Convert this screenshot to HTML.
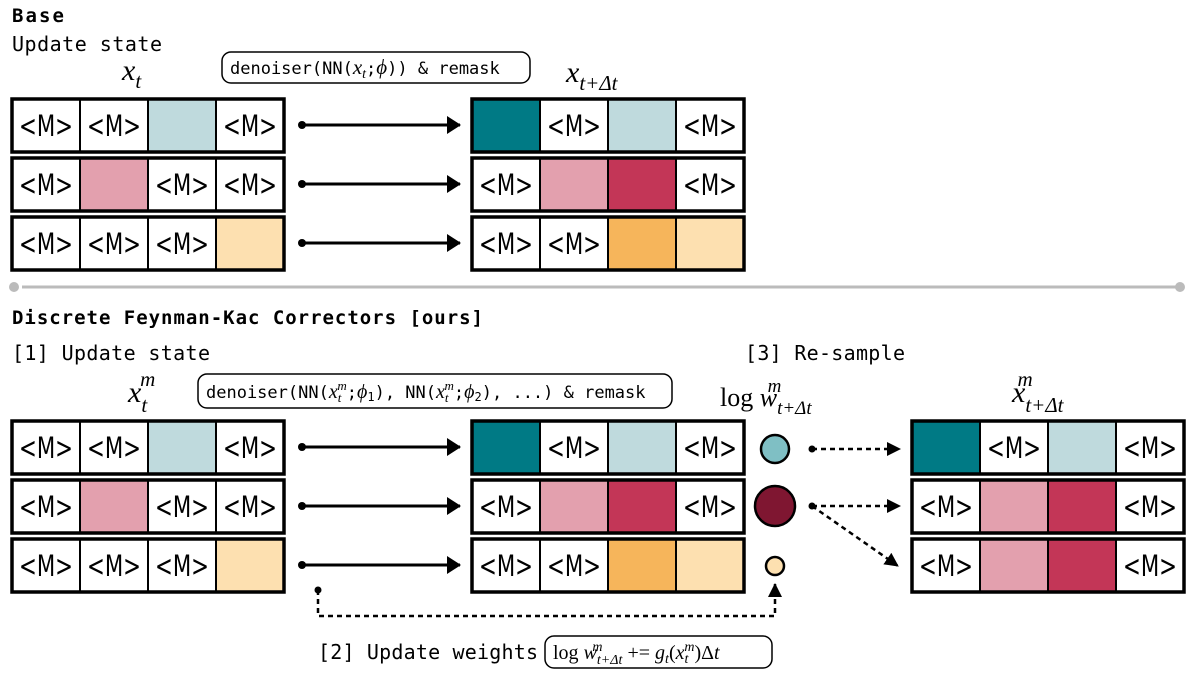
<!DOCTYPE html>
<html><head><meta charset="utf-8"><style>
body{margin:0;background:#fff;width:1200px;height:678px;overflow:hidden}
svg{display:block}
.m{font-family:"DejaVu Sans Mono","Liberation Mono",monospace}
.c{font-family:"DejaVu Sans","Liberation Sans",sans-serif;font-size:29px}
.s{font-family:"Liberation Serif",serif;font-style:italic}
</style></head><body>
<svg width="1200" height="678" viewBox="0 0 1200 678">
<defs>
<marker id="a" markerWidth="14" markerHeight="18" refX="13" refY="9" orient="auto" markerUnits="userSpaceOnUse"><path d="M0,0 L14,9 L0,18z" fill="#000"/></marker>
<marker id="a2" markerWidth="14" markerHeight="14" refX="13" refY="7" orient="auto" markerUnits="userSpaceOnUse"><path d="M0,0 L14,7 L0,14z" fill="#000"/></marker>
</defs>
<g id="all"></g>
<text x="12" y="22" class="m" font-size="19" font-weight="bold" textLength="52">Base</text>
<text x="12" y="51" class="m" font-size="20" textLength="150">Update state</text>
<rect x="222" y="52" width="308" height="31" rx="9" fill="#fff" stroke="#000" stroke-width="1.5"/>
<text x="230" y="74" class="m" font-size="17">denoiser(NN(<tspan class="s" font-size="21">x</tspan><tspan class="s" font-size="14" dy="4">t</tspan><tspan dy="-4">;</tspan><tspan class="s" font-size="21">ϕ</tspan>)) &amp; remask</text>
<text x="122" y="80" class="s" font-size="30">x<tspan font-size="21" dy="8">t</tspan></text>
<text x="566" y="82" class="s" font-size="30">x<tspan font-size="21" dy="8">t+Δt</tspan></text>

<line x1="22" y1="287" x2="1176" y2="287" stroke="#bbb" stroke-width="3"/>
<circle cx="14" cy="287" r="5" fill="#bbb"/><circle cx="1180" cy="287" r="5" fill="#bbb"/>

<text x="12" y="324" class="m" font-size="19" font-weight="bold" textLength="471">Discrete Feynman-Kac Correctors [ours]</text>
<text x="12" y="360" class="m" font-size="20" textLength="198">[1] Update state</text>
<text x="745" y="360" class="m" font-size="20" textLength="160">[3] Re-sample</text>
<rect x="198" y="374" width="474" height="34" rx="9" fill="#fff" stroke="#000" stroke-width="1.5"/>
<text x="206" y="398" class="m" font-size="17">denoiser(NN(<tspan class="s" font-size="20">x</tspan><tspan class="s" font-size="13" dy="4">t</tspan><tspan class="s" font-size="13" dx="-4" dy="-12">m</tspan><tspan dy="8">;</tspan><tspan class="s" font-size="20">ϕ</tspan><tspan font-size="12" dy="3">1</tspan><tspan dy="-3">), NN(</tspan><tspan class="s" font-size="20">x</tspan><tspan class="s" font-size="13" dy="4">t</tspan><tspan class="s" font-size="13" dx="-4" dy="-12">m</tspan><tspan dy="8">;</tspan><tspan class="s" font-size="20">ϕ</tspan><tspan font-size="12" dy="3">2</tspan><tspan dy="-3">), ...) &amp; remask</tspan></text>
<text x="128" y="402" class="s" font-size="30">x<tspan font-size="21" dy="10">t</tspan><tspan font-size="21" dx="-7" dy="-26">m</tspan></text>
<text x="720" y="406" font-family="Liberation Serif,serif" font-size="26">log <tspan class="s">w</tspan><tspan class="s" font-size="19" dy="8">t+Δt</tspan><tspan class="s" font-size="19" dx="-44" dy="-22">m</tspan></text>
<text x="1012" y="402" class="s" font-size="30">x<tspan font-size="21" dy="10">t+Δt</tspan><tspan font-size="21" dx="-46" dy="-26">m</tspan></text>

<circle cx="775" cy="449" r="14" fill="#7fbfc4" stroke="#000" stroke-width="2.5"/>
<circle cx="775" cy="506" r="20" fill="#7f1631" stroke="#000" stroke-width="2.5"/>
<circle cx="775" cy="566" r="9" fill="#fde0b0" stroke="#000" stroke-width="2.5"/>
<g stroke="#000" stroke-width="2.5" stroke-dasharray="5,4" fill="none">
<line x1="812" y1="449" x2="900" y2="449" marker-end="url(#a2)"/>
<line x1="812" y1="506" x2="900" y2="506" marker-end="url(#a2)"/>
<line x1="812" y1="506" x2="898" y2="566" marker-end="url(#a2)"/>
<polyline points="318,590 318,616 775,616 775,584" marker-end="url(#a2)"/>
</g>
<circle cx="812" cy="449" r="3.5"/><circle cx="812" cy="506" r="3.5"/><circle cx="318" cy="590" r="3.5"/>

<text x="318" y="659" class="m" font-size="20" textLength="220">[2] Update weights</text>
<rect x="545" y="636" width="227" height="32" rx="9" fill="#fff" stroke="#000" stroke-width="1.5"/>
<text x="553" y="659" font-family="Liberation Serif,serif" font-size="20">log <tspan class="s">w</tspan><tspan class="s" font-size="14" dy="5">t+Δt</tspan><tspan class="s" font-size="14" dx="-30" dy="-13">m</tspan><tspan dx="20" dy="8"> += </tspan><tspan class="s">g</tspan><tspan class="s" font-size="14" dy="4">t</tspan><tspan dy="-4">(</tspan><tspan class="s">x</tspan><tspan class="s" font-size="14" dy="4">t</tspan><tspan class="s" font-size="14" dx="-4" dy="-12">m</tspan><tspan dy="8">)Δ</tspan><tspan class="s">t</tspan></text>
</svg>
<script>
const g=document.getElementById('all');const NS='http://www.w3.org/2000/svg';
const C={T:'#007a85',L:'#bfdadd',P:'#e3a0ae',R:'#c33657',O:'#f6b55b',Y:'#fde0b0'};
function row(x,y,cells){const w=68,h=53;
 cells.forEach((c,i)=>{const r=document.createElementNS(NS,'rect');r.setAttribute('x',x+i*w);r.setAttribute('y',y);r.setAttribute('width',w);r.setAttribute('height',h);r.setAttribute('fill',c=='M'?'#fff':C[c]);r.setAttribute('stroke','#000');r.setAttribute('stroke-width','2');g.appendChild(r);
 if(c=='M'){const t=document.createElementNS(NS,'text');t.setAttribute('x',x+i*w+7);t.setAttribute('y',y+37);t.setAttribute('textLength','54');t.setAttribute('lengthAdjust','spacingAndGlyphs');t.setAttribute('class','c');t.textContent='<M>';g.appendChild(t);}});
 const b=document.createElementNS(NS,'rect');b.setAttribute('x',x);b.setAttribute('y',y);b.setAttribute('width',w*4);b.setAttribute('height',h);b.setAttribute('fill','none');b.setAttribute('stroke','#000');b.setAttribute('stroke-width','3.5');g.appendChild(b);}
function arr(y){const l=document.createElementNS(NS,'line');l.setAttribute('x1',302);l.setAttribute('y1',y);l.setAttribute('x2',460);l.setAttribute('y2',y);l.setAttribute('stroke','#000');l.setAttribute('stroke-width','3');l.setAttribute('marker-end','url(#a)');g.appendChild(l);
 const c=document.createElementNS(NS,'circle');c.setAttribute('cx',302);c.setAttribute('cy',y);c.setAttribute('r',4);g.appendChild(c);}
[[99,158,217],[421,480,539]].forEach((ys,k)=>{
 row(12,ys[0],['M','M','L','M']);row(12,ys[1],['M','P','M','M']);row(12,ys[2],['M','M','M','Y']);
 row(472,ys[0],['T','M','L','M']);row(472,ys[1],['M','P','R','M']);row(472,ys[2],['M','M','O','Y']);
 ys.forEach(y=>arr(y+26));
});
row(912,421,['T','M','L','M']);row(912,480,['M','P','R','M']);row(912,539,['M','P','R','M']);
</script>
</body></html>
